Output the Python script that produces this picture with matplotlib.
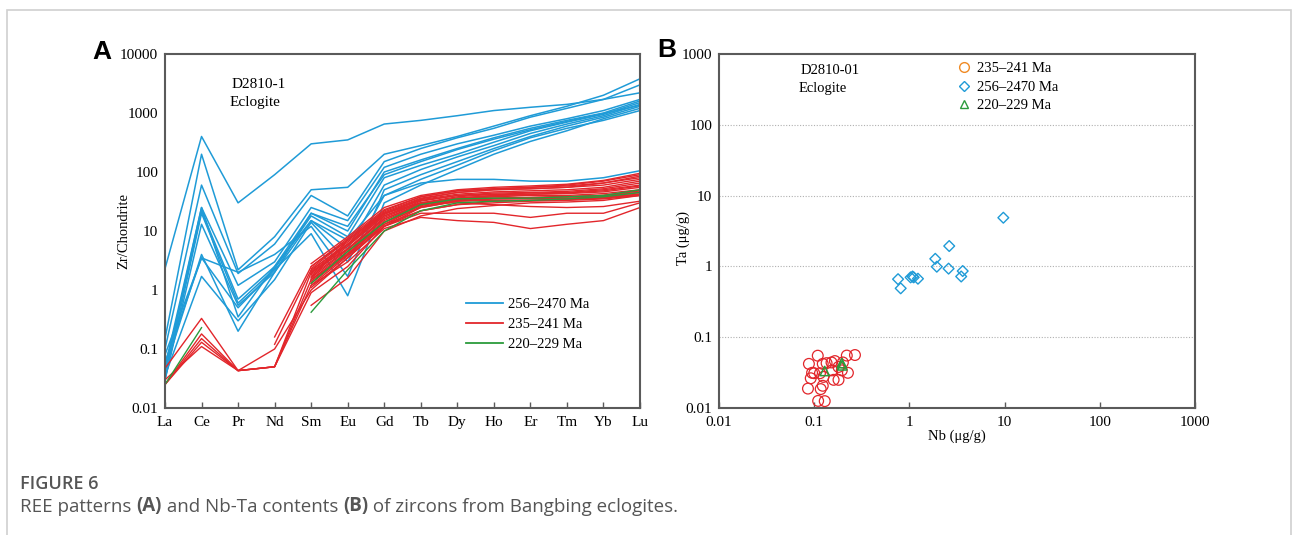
import matplotlib
matplotlib.use('Agg')
import matplotlib.pyplot as plt
import numpy as np
from matplotlib.lines import Line2D
from matplotlib.patches import Rectangle
from matplotlib.text import Annotation

nan = np.nan

# REE chondrite-normalised patterns (panel A)
ree = ['La', 'Ce', 'Pr', 'Nd', 'Sm', 'Eu', 'Gd', 'Tb', 'Dy', 'Ho', 'Er', 'Tm', 'Yb', 'Lu']

old_zircon = [  # 256-2470 Ma
    [2.3, 400, 30, 90, 300, 350, 650, 750, 900, 1100, 1250, 1400, 1700, 2200],
    [0.15, 200, 2.2, 8, 50, 55, 200, 280, 400, 600, 900, 1300, 2000, 3800],
    [0.1, 60, 1.9, 6, 40, 18, 150, 250, 380, 550, 850, 1200, 1700, 3000],
    [0.05, 25, 1.2, 3, 25, 15, 120, 200, 300, 420, 600, 800, 1100, 1700],
    [0.04, 22, 0.7, 2.5, 20, 10, 100, 160, 250, 380, 550, 750, 1000, 1600],
    [0.03, 20, 0.6, 2.3, 18, 8, 80, 130, 200, 320, 500, 700, 950, 1500],
    [0.03, 13, 0.55, 2, 15, 5, 60, 110, 180, 280, 450, 650, 900, 1400],
    [0.06, 3.5, 2, 4, 12, 1.7, 50, 90, 150, 250, 400, 600, 850, 1300],
    [0.08, 3.5, 0.5, 2.2, 9, 0.8, 30, 60, 110, 200, 330, 500, 800, 1200],
    [0.035, 1.7, 0.3, 1.5, 14, 3, 40, 75, 130, 230, 380, 550, 750, 1100],
    [0.04, 25, 0.35, 2.5, 15, 7, 40, 65, 75, 75, 70, 70, 80, 105],
    [0.045, 4, 0.2, 2, 20, 12, 90, 150, 240, 360, 520, 720, 980, 1350],
]

mid_zircon = [  # 235-241 Ma
    [0.047, 0.33, 0.043, 0.1, 1.0, 3.5, 12, 22, 28, 30, 32, 33, 35, 40],
    [0.025, 0.18, 0.043, 0.05, 1.5, 4, 14, 25, 32, 35, 36, 38, 40, 48],
    [0.025, 0.15, 0.043, 0.05, 2.0, 5, 16, 28, 36, 40, 42, 44, 48, 58],
    [0.025, 0.13, 0.043, 0.05, 1.2, 3, 11, 17, 15, 14, 11, 13, 15, 25],
    [0.03, 0.11, 0.043, 0.05, 0.9, 2.5, 12, 20, 20, 20, 17, 20, 20, 30],
    [nan, nan, nan, 0.16, 2.5, 7, 22, 38, 48, 52, 55, 60, 70, 90],
    [nan, nan, nan, 0.12, 2.2, 6, 20, 35, 45, 50, 52, 55, 65, 85],
    [nan, nan, nan, nan, 2.8, 8, 25, 40, 50, 55, 58, 62, 72, 95],
    [nan, nan, nan, nan, 2.5, 7.5, 23, 38, 48, 52, 55, 58, 65, 80],
    [nan, nan, nan, nan, 2.3, 7, 21, 36, 45, 50, 52, 55, 60, 75],
    [nan, nan, nan, nan, 2.0, 6, 19, 34, 42, 46, 48, 50, 55, 70],
    [nan, nan, nan, nan, 1.8, 5.5, 18, 32, 40, 44, 45, 47, 52, 65],
    [nan, nan, nan, nan, 1.7, 5, 17, 30, 38, 42, 44, 45, 50, 60],
    [nan, nan, nan, nan, 1.6, 4.8, 16, 29, 36, 40, 42, 43, 46, 55],
    [nan, nan, nan, nan, 1.5, 4.5, 15, 28, 35, 38, 40, 40, 43, 50],
    [nan, nan, nan, nan, 1.4, 4.2, 14, 27, 34, 36, 37, 38, 40, 48],
    [nan, nan, nan, nan, 1.3, 4, 13, 26, 33, 35, 35, 36, 38, 45],
    [nan, nan, nan, nan, 1.2, 3.8, 12, 25, 32, 33, 33, 34, 36, 42],
    [nan, nan, nan, nan, 2.1, 6.5, 20, 33, 40, 42, 40, 38, 40, 45],
    [nan, nan, nan, nan, 1.9, 5.8, 18, 30, 36, 38, 36, 35, 37, 42],
    [nan, nan, nan, nan, 0.55, 1.6, 10, 18, 24, 27, 30, 31, 33, 40],
    [nan, nan, nan, nan, 1.6, 7, 20, 30, 30, 28, 26, 25, 26, 32],
    [nan, nan, nan, nan, 1.1, 3.5, 13, 22, 28, 32, 33, 35, 37, 42],
]

young_zircon = [  # 220-229 Ma
    [0.025, 0.23, nan, nan, 0.42, 2.2, 10, 22, 30, 32, 33, 35, 38, 45],
    [nan, nan, nan, nan, 1.3, 4.5, 14, 28, 35, 36, 36, 38, 40, 50],
]

# Nb-Ta contents (panel B)
nb_mid = [0.109, 0.088, 0.268, 0.22, 0.123, 0.135, 0.152, 0.165, 0.095, 0.1,
          0.115, 0.092, 0.125, 0.154, 0.16, 0.18, 0.195, 0.226, 0.123, 0.086,
          0.117, 0.11, 0.129, 0.18, 0.2]
ta_mid = [0.0548, 0.042, 0.056, 0.055, 0.042, 0.043, 0.044, 0.046, 0.0314, 0.031,
          0.031, 0.0263, 0.0275, 0.034, 0.025, 0.025, 0.034, 0.0314, 0.0206, 0.0188,
          0.0185, 0.0126, 0.0125, 0.038, 0.044]
nb_old = [9.7, 2.62, 1.87, 1.94, 2.58, 3.63, 3.5, 0.76, 0.81, 1.03, 1.08, 1.11, 1.23]
ta_old = [4.87, 1.94, 1.28, 0.99, 0.93, 0.86, 0.72, 0.66, 0.49, 0.70, 0.72, 0.70, 0.67]
nb_young = [0.129, 0.195, 0.197]
ta_young = [0.0333, 0.043, 0.040]

blue = '#1f9bd7'
red = '#e2262b'
green = '#2b9b3c'
orange = '#f08a24'
spine_c = '#5a5a5a'
serif = ['Liberation Serif', 'DejaVu Serif']

plt.rcParams['font.family'] = serif
plt.rcParams['font.size'] = 10

W, H = 1292, 535
fig = plt.figure(figsize=(W / 100, H / 100), dpi=100)

# card border
fig.patches.append(Rectangle((7 / W, -0.1), 1284 / W, 1.1 - 10 / H, transform=fig.transFigure,
                             fill=False, edgecolor='#d0d0d0', linewidth=1.2))

axA = fig.add_axes([165 / W, 1 - 408 / H, 475 / W, 354 / H])
axB = fig.add_axes([719 / W, 1 - 408 / H, 476 / W, 354 / H])

for ax in (axA, axB):
    for s in ax.spines.values():
        s.set_color(spine_c)
        s.set_linewidth(1.5)

# ---- panel A
x = np.arange(len(ree))
for row in old_zircon:
    axA.plot(x, row, color=blue, lw=1.1)
for row in mid_zircon:
    axA.plot(x, row, color=red, lw=1.0)
for row in young_zircon:
    axA.plot(x, row, color=green, lw=1.0)

axA.set_yscale('log')
axA.set_ylim(0.01, 10000)
axA.set_xlim(0, len(ree) - 1)
axA.set_xticks(x)
axA.set_xticklabels(ree)
yt = [0.01, 0.1, 1, 10, 100, 1000, 10000]
axA.set_yticks(yt)
axA.set_yticklabels(['0.01', '0.1', '1', '10', '100', '1000', '10000'])
axA.minorticks_off()
axA.tick_params(axis='x', direction='in', length=4, width=1, color=spine_c, pad=6, labelsize=11)
axA.tick_params(axis='y', length=0, pad=5, labelsize=11)
axA.set_ylabel('Zr/Chondrite', fontsize=10.5)
axA.yaxis.set_label_coords(-0.074, 0.5)

axA.text(0.198, 0.914, 'D2810-1', transform=axA.transAxes, ha='center', va='center', fontsize=11)
axA.text(0.19, 0.864, 'Eclogite', transform=axA.transAxes, ha='center', va='center', fontsize=11)

handlesA = [Line2D([], [], color=blue, lw=1.3), Line2D([], [], color=red, lw=1.3),
            Line2D([], [], color=green, lw=1.3)]
axA.legend(handlesA, ['256–2470 Ma', '235–241 Ma', '220–229 Ma'], loc='upper left',
           bbox_to_anchor=(0.634, 0.31), frameon=False, borderpad=0, borderaxespad=0,
           handlelength=2.5, handletextpad=0.35, labelspacing=0.45, fontsize=10.5)

# ---- panel B
axB.set_xscale('log')
axB.set_yscale('log')
axB.set_xlim(0.01, 1000)
axB.set_ylim(0.01, 1000)
for v in [0.1, 1, 10, 100]:
    axB.axhline(v, color='#b0b0b0', lw=0.8, ls=(0, (1, 1.5)), zorder=0)

axB.scatter(nb_mid, ta_mid, s=60, facecolors='none', edgecolors=red, linewidths=0.9, zorder=3)
axB.scatter(nb_old, ta_old, marker='D', s=30, facecolors='none', edgecolors=blue, linewidths=1.0, zorder=3)
axB.scatter(nb_young, ta_young, marker='^', s=45, facecolors='none', edgecolors=green, linewidths=1.1, zorder=4)

dec = [0.01, 0.1, 1, 10, 100, 1000]
dec_lab = ['0.01', '0.1', '1', '10', '100', '1000']
axB.set_xticks(dec)
axB.set_xticklabels(dec_lab)
axB.set_yticks(dec)
axB.set_yticklabels(dec_lab)
axB.minorticks_off()
axB.tick_params(axis='x', direction='in', length=4, width=1, color=spine_c, pad=6, labelsize=11)
axB.tick_params(axis='y', length=0, pad=5, labelsize=11)
axB.set_xlabel('Nb (μg/g)', fontsize=10.5)
axB.xaxis.set_label_coords(0.5, -0.062)
axB.set_ylabel('Ta (μg/g)', fontsize=10.5)
axB.yaxis.set_label_coords(-0.061, 0.48)

axB.text(0.233, 0.954, 'D2810-01', transform=axB.transAxes, ha='center', va='center', fontsize=10.5)
axB.text(0.218, 0.903, 'Eclogite', transform=axB.transAxes, ha='center', va='center', fontsize=10.5)

handlesB = [Line2D([], [], ls='none', marker='o', ms=7, mfc='none', mec=orange, mew=1.0),
            Line2D([], [], ls='none', marker='D', ms=5, mfc='none', mec=blue, mew=1.0),
            Line2D([], [], ls='none', marker='^', ms=6, mfc='none', mec=green, mew=1.0)]
axB.legend(handlesB, ['235–241 Ma', '256–2470 Ma', '220–229 Ma'], loc='upper left',
           bbox_to_anchor=(0.5, 0.978), frameon=False, borderpad=0, borderaxespad=0,
           handlelength=1.0, handletextpad=0.4, labelspacing=0.38, fontsize=10.5)

# panel letters
fig.text(92 / W, 1 - 52 / H, 'A', fontsize=19, fontweight='bold', family='Liberation Sans', va='center')
fig.text(657 / W, 1 - 50 / H, 'B', fontsize=19, fontweight='bold', family='Liberation Sans', va='center')

# caption, bold panel references chained one after another
cap_c = '#555555'
cap_font = ['Open Sans', 'DejaVu Sans']
fig.text(20 / W, 1 - 484 / H, 'FIGURE 6', fontsize=13, color=cap_c, family=cap_font,
         fontweight='semibold', va='center')
parts = [('REE patterns ', 'normal'), ('(A)', 'bold'), (' and Nb-Ta contents ', 'normal'),
         ('(B)', 'bold'), (' of zircons from Bangbing eclogites.', 'normal')]
prev = fig.text(20 / W, 1 - 507 / H, parts[0][0], fontsize=13.5, color=cap_c,
                family=cap_font, va='center')
for txt, wt in parts[1:]:
    prev = fig.add_artist(Annotation(txt, xy=(1, 0), xycoords=prev, fontsize=13.5, color=cap_c,
                                     family=cap_font, fontweight=wt, va='bottom', ha='left',
                                     annotation_clip=False))

fig.savefig('out.png', dpi=100)
